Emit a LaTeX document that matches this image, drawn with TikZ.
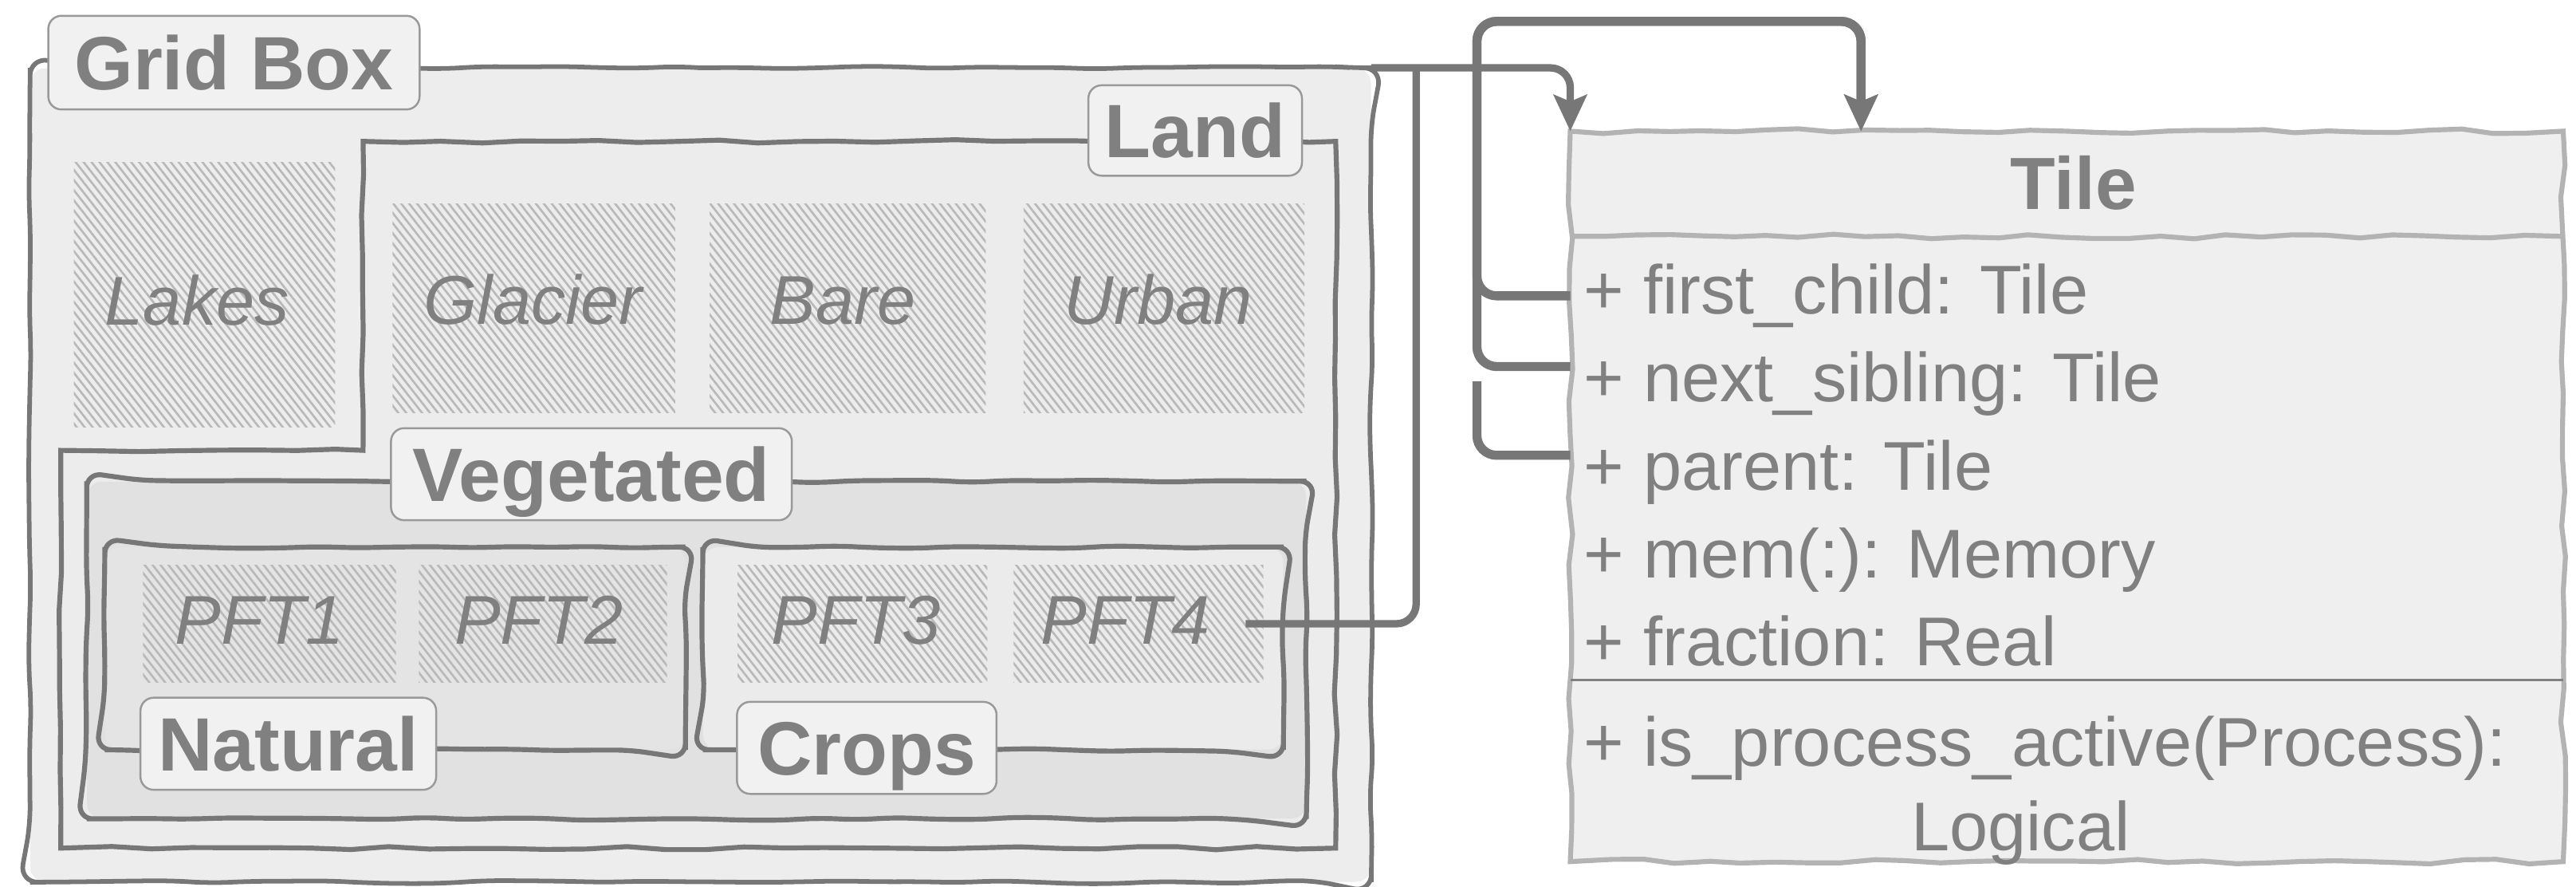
\documentclass[tikz,border=0pt]{standalone}
\usepackage{fontspec}
\setmainfont{Liberation Sans}
\usetikzlibrary{arrows.meta,decorations.pathmorphing,patterns.meta,calc}
\definecolor{ln}{HTML}{777777}
\definecolor{tx}{HTML}{808080}
\definecolor{gbfill}{HTML}{EDEDED}
\definecolor{landfill}{HTML}{ECECEC}
\definecolor{vegfill}{HTML}{E1E1E1}
\definecolor{natfill}{HTML}{E4E4E4}
\definecolor{cropfill}{HTML}{EBEBEB}
\definecolor{lblfill}{HTML}{F1F1F1}
\definecolor{lblline}{HTML}{999999}
\definecolor{hatchc}{HTML}{B9B9B9}
\definecolor{tilefill}{HTML}{EFEFEF}
\definecolor{tileline}{HTML}{B3B3B3}
% sketchy outline of a node drawn as an open path so every corner is rounded
\newcommand\skoutline[2]{%
  \draw[#1] ($(#2.north west)!0.5!(#2.north east)$) -- (#2.north east) -- (#2.south east)
    -- (#2.south west) -- (#2.north west) -- ($(#2.north west)!0.5!(#2.north east)$);}
\begin{document}
\begin{tikzpicture}[x=1pt,y=-1pt,
  sketch/.style={decorate,decoration={random steps,segment length=24pt,amplitude=1pt}},
  boxfill/.style={rounded corners=9pt, inner sep=0pt},
  outline/.style={draw=ln, line width=3pt, rounded corners=9pt, sketch},
  hatch/.style={pattern={Lines[angle=-52,distance=3.8pt,line width=1.3pt]}, pattern color=hatchc, inner sep=0pt},
  lbl/.style={draw=lblline, fill=lblfill, line width=1.2pt, rounded corners=8pt,
    font=\fontsize{46}{50}\selectfont\bfseries, text=tx, text height=33pt, text depth=0pt, inner sep=0pt},
  itl/.style={font=\fontsize{42}{46}\selectfont\itshape, text=tx, text height=30pt, text depth=0pt, inner sep=0pt},
  attr/.style={font=\fontsize{42}{46}\selectfont, text=tx, text height=30pt, text depth=0pt, inner sep=0pt, anchor=base west},
  tilebox/.style={fill=tilefill, inner sep=0pt},
  tileout/.style={draw=tileline, line width=3pt, decorate, decoration={random steps,segment length=20pt,amplitude=1.5pt}},
  conn/.style={draw=ln, line width=4.5pt, rounded corners=12pt},
  selfconn/.style={conn, line width=5.5pt},
  tip/.style={-{Stealth[length=22pt,width=20pt,inset=4pt]}}
]
\pgfmathsetseed{7}
\useasboundingbox (0,0) rectangle (1568,539.6);

% Grid box container
\node[boxfill, fill=gbfill, minimum width=816pt, minimum height=495pt] (gb) at (426.5,289) {};
\skoutline{outline, line width=2.8pt, rounded corners=11pt}{gb}
% Land region (L-shaped)
\draw[draw=ln, line width=3pt, fill=landfill, sketch] (221,86) -- (813,86) -- (813,516) -- (37,516) -- (37,274) -- (221,274) -- cycle;

% hatched tiles
\node[hatch, minimum width=159pt, minimum height=161pt] (lakes) at (124.5,179.5) {};
\node[hatch, minimum width=172pt, minimum height=127pt] (glacier) at (325,187.5) {};
\node[hatch, minimum width=168pt, minimum height=127pt] (bare) at (516,187.5) {};
\node[hatch, minimum width=171pt, minimum height=127pt] (urban) at (708.5,187.5) {};

% Vegetated, Natural, Crops
\node[boxfill, fill=vegfill, minimum width=742pt, minimum height=205pt] (veg) at (424,395.5) {};
\skoutline{outline}{veg}
\node[boxfill, fill=natfill, minimum width=353pt, minimum height=123pt] (nat) at (240.5,394.5) {};
\skoutline{outline}{nat}
\node[boxfill, fill=cropfill, minimum width=353pt, minimum height=123pt] (crops) at (604.5,394.5) {};
\skoutline{outline}{crops}

\node[hatch, minimum width=154pt, minimum height=71pt] (pft1) at (164,379.5) {};
\node[hatch, minimum width=151pt, minimum height=71pt] (pft2) at (330.5,379.5) {};
\node[hatch, minimum width=152pt, minimum height=71pt] (pft3) at (525,379.5) {};
\node[hatch, minimum width=152pt, minimum height=71pt] (pft4) at (693,379.5) {};

% italic names
\node[itl] (lakesT) at (120,183) {Lakes};
\node[itl] (glacierT) at (324.5,182.5) {Glacier};
\node[itl] (bareT) at (513,182.5) {Bare};
\node[itl] (urbanT) at (705,182.5) {Urban};
\node[itl] (pft1T) at (158,377) {PFT1};
\node[itl] (pft2T) at (328,377) {PFT2};
\node[itl] (pft3T) at (521,377) {PFT3};
\node[itl] (pft4T) at (685,377) {PFT4};

% bold labels
\node[lbl, minimum width=226pt, minimum height=57pt] (gbL) at (142.4,38.1) {Grid Box};
\node[lbl, minimum width=130pt, minimum height=55pt] (landL) at (727.5,79.4) {Land};
\node[lbl, minimum width=244pt, minimum height=56pt] (vegL) at (360,288.5) {Vegetated};
\node[lbl, minimum width=180pt, minimum height=56pt] (natL) at (175.5,452.5) {Natural};
\node[lbl, minimum width=158pt, minimum height=56pt] (cropsL) at (527.6,455) {Crops};

% Tile class
\node[tilebox, minimum width=604pt, minimum height=444pt] (tile) at (1258,302) {};
\skoutline{tileout}{tile}
\draw[tileout] ([yshift=-64pt]tile.north west) -- ([yshift=-64pt]tile.north east);
\draw[draw=tx, line width=1.2pt] ([yshift=-334pt]tile.north west) -- ([yshift=-334pt]tile.north east);
\node[font=\fontsize{45}{50}\selectfont\bfseries, text=tx, text height=32pt, text depth=0pt, inner sep=0pt] (tileT) at (1262,111.6) {Tile};
\node[attr] (a1) at (964,191) {+ first\_child: Tile};
\node[attr] (a2) at (964,244.5) {+ next\_sibling: Tile};
\node[attr] (a3) at (964,298) {+ parent: Tile};
\node[attr] (a4) at (964,351.5) {+ mem(:): Memory};
\node[attr] (a5) at (964,405) {+ fraction: Real};
\node[attr] (m1) at (964,466) {+ is\_process\_active(Process):};
\node[attr, anchor=base] (m2) at (1230,517.4) {Logical};

% connectors
\coordinate (j1) at (862,41);
\coordinate (sL) at (899,13);
\coordinate (pEnd) at (899,232);
\coordinate (tt) at ([xshift=177pt]tile.north west);

\draw[conn, tip] (gb.north east) -| (tile.north west);
\draw[conn] ([xshift=-11pt]pft4.east) -| (j1);

\draw[selfconn, tip] ([yshift=-4pt]tile.west |- a1) -| (sL) -| (tt);
\draw[selfconn, tip] ([yshift=6.5pt]tile.west |- a2) -| (sL) -| (tt);
\draw[selfconn] ([yshift=6pt]tile.west |- a3) -| (pEnd);
\end{tikzpicture}
\end{document}
